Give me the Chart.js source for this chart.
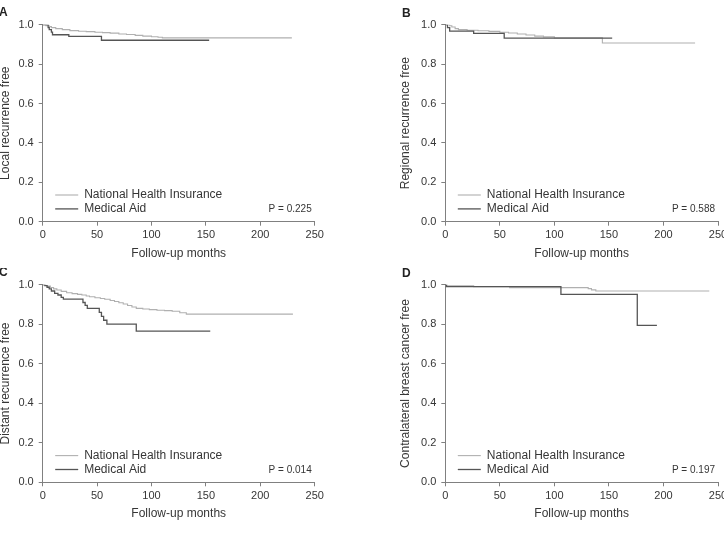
<!DOCTYPE html>
<html lang="en">
<head>
<meta charset="UTF-8" />
<title>Recurrence-free curves by insurance type</title>
<script src="https://cdn.jsdelivr.net/npm/chart.js"></script>
<style>
  body { margin: 0; background: #fff; }
  #wrap { position: relative; width: 724px; height: 536px; overflow: hidden; background: #fff; }
  #wrap canvas { position: absolute; }
</style>
</head>
<body>
<div id="wrap">
  <canvas id="chartA" width="362" height="268" style="left:0;top:0"></canvas>
  <canvas id="chartB" width="362" height="268" style="left:362px;top:0"></canvas>
  <canvas id="chartC" width="362" height="268" style="left:0;top:268px"></canvas>
  <canvas id="chartD" width="362" height="268" style="left:362px;top:268px"></canvas>
</div>
<script>
  // axis ticks shared by all four panels
  const xTickValues = [0, 50, 100, 150, 200, 250];
  const yTickValues = [0, 0.2, 0.4, 0.6, 0.8, 1.0];
  const seriesNames = ['National Health Insurance', 'Medical Aid'];

  // A - local recurrence
  const aNhiMonths = [0, 3, 6, 8, 12, 18, 25, 33, 40, 48, 55, 62, 70, 77, 85, 92, 100, 106, 110, 229];
  const aNhiSurv   = [1, 0.995, 0.99, 0.985, 0.98, 0.975, 0.97, 0.967, 0.965, 0.962, 0.96, 0.957, 0.953, 0.95, 0.946, 0.942, 0.939, 0.936, 0.933, 0.933];
  const aMaMonths  = [0, 5, 6, 8, 9, 24, 54, 153];
  const aMaSurv    = [1, 0.985, 0.975, 0.962, 0.949, 0.941, 0.921, 0.921];

  // B - regional recurrence
  const bNhiMonths = [0, 4, 6, 9, 12, 20, 30, 40, 50, 58, 66, 74, 82, 90, 100, 144, 229];
  const bNhiSurv   = [1, 0.995, 0.988, 0.98, 0.975, 0.972, 0.969, 0.966, 0.962, 0.958, 0.953, 0.948, 0.942, 0.938, 0.933, 0.907, 0.907];
  const bMaMonths  = [0, 2, 4, 26, 54, 153];
  const bMaSurv    = [1, 0.985, 0.967, 0.956, 0.932, 0.932];

  // C - distant recurrence
  const cNhiMonths = [0, 2, 4, 7, 10, 13, 17, 22, 27, 32, 36, 40, 43, 48, 53, 57, 62, 66, 70, 74, 78, 82, 86, 92, 98, 105, 112, 119, 126, 132, 230];
  const cNhiSurv   = [1, 0.997, 0.993, 0.986, 0.979, 0.973, 0.966, 0.959, 0.955, 0.951, 0.948, 0.943, 0.939, 0.934, 0.93, 0.926, 0.92, 0.915, 0.909, 0.902, 0.895, 0.887, 0.88, 0.877, 0.874, 0.871, 0.869, 0.866, 0.858, 0.851, 0.851];
  const cMaMonths  = [0, 2, 4, 6, 8, 11, 14, 17, 19, 37, 39, 41, 52, 54, 56, 59, 86, 154];
  const cMaSurv    = [1, 0.995, 0.987, 0.979, 0.968, 0.956, 0.948, 0.936, 0.927, 0.91, 0.895, 0.88, 0.86, 0.84, 0.82, 0.8, 0.765, 0.765];

  // D - contralateral breast cancer
  const dNhiMonths = [0, 2, 26, 59, 131, 134, 138, 242];
  const dNhiSurv   = [1, 0.995, 0.99, 0.985, 0.98, 0.974, 0.968, 0.968];
  const dMaMonths  = [0, 1, 106, 176, 194];
  const dMaSurv    = [1, 0.99, 0.951, 0.794, 0.794];

  const FONT = "'Liberation Sans', Arial, sans-serif";
  const TEXT = '#363636';
  const AXIS = '#808080';
  const NHI_COLOR = '#b0b0b0';
  const MA_COLOR = '#555555';

  function pts(months, surv) {
    return months.map((m, i) => ({ x: m, y: surv[i] }));
  }

  // legend, p value and panel letter drawn on the canvas
  const extrasPlugin = {
    id: 'extras',
    afterDraw(chart, args, opts) {
      const { ctx, chartArea: ca } = chart;
      ctx.save();
      ctx.font = '12px ' + FONT;
      ctx.textBaseline = 'middle';
      const rows = [ca.bottom - 26.7, ca.bottom - 12.8];
      const cols = [NHI_COLOR, MA_COLOR];
      rows.forEach((y, i) => {
        ctx.strokeStyle = cols[i];
        ctx.lineWidth = i === 0 ? 1.1 : 1.3;
        ctx.beginPath();
        ctx.moveTo(ca.left + 12.5, y);
        ctx.lineTo(ca.left + 35.5, y);
        ctx.stroke();
        ctx.fillStyle = TEXT;
        ctx.textAlign = 'left';
        ctx.fillText(seriesNames[i], ca.left + 41.5, y);
      });
      ctx.font = '10px ' + FONT;
      ctx.textAlign = 'right';
      ctx.fillText(opts.p, ca.right - 3, ca.bottom - 12.5);
      ctx.font = 'bold 12px ' + FONT;
      ctx.textAlign = 'left';
      ctx.fillStyle = '#222';
      ctx.fillText(opts.letter, opts.lx, opts.ly);
      ctx.restore();
    }
  };

  function makePanel(id, o) {
    new Chart(document.getElementById(id), {
      type: 'line',
      data: {
        datasets: [
          { label: seriesNames[1], data: pts(o.maM, o.maS), borderColor: MA_COLOR, borderWidth: 1.3, stepped: 'before', pointRadius: 0 },
          { label: seriesNames[0], data: pts(o.nhiM, o.nhiS), borderColor: NHI_COLOR, borderWidth: 1.1, stepped: 'before', pointRadius: 0 }
        ]
      },
      options: {
        responsive: false,
        animation: false,
        layout: { padding: { left: o.padL, top: o.padT, right: o.padR, bottom: o.padB } },
        plugins: {
          legend: { display: false },
          tooltip: { enabled: false },
          extras: { p: o.p, letter: o.letter, lx: o.lx, ly: o.ly }
        },
        scales: {
          x: {
            type: 'linear', min: 0, max: 250,
            afterBuildTicks: s => { s.ticks = xTickValues.map(v => ({ value: v })); },
            afterFit: s => { s.height = o.xH; s.paddingLeft = 0; s.paddingRight = 0; },
            grid: { drawOnChartArea: false, tickLength: 4, color: AXIS },
            border: { color: AXIS, width: 1 },
            ticks: { color: TEXT, padding: 3, maxRotation: 0, font: { size: 11, family: FONT } },
            title: { display: true, text: 'Follow-up months', color: TEXT, font: { size: 12, family: FONT }, padding: { top: 0, bottom: 6.8 } }
          },
          y: {
            min: 0, max: 1,
            afterBuildTicks: s => { s.ticks = yTickValues.map(v => ({ value: v })); },
            afterFit: s => { s.width = o.yW; s.paddingTop = 0; s.paddingBottom = 0; },
            grid: { drawOnChartArea: false, tickLength: 4, color: AXIS },
            border: { color: AXIS, width: 1 },
            ticks: { color: TEXT, padding: 5, callback: v => v.toFixed(1), font: { size: 11, family: FONT } },
            title: { display: true, text: o.yTitle, color: TEXT, font: { size: 12, family: FONT }, padding: { top: o.yTitlePad, bottom: 0 } }
          }
        }
      },
      plugins: [extrasPlugin]
    });
  }

  makePanel('chartA', {
    nhiM: aNhiMonths, nhiS: aNhiSurv, maM: aMaMonths, maS: aMaSurv,
    yTitle: 'Local recurrence free', p: 'P = 0.225', letter: 'A', lx: -1, ly: 12.5,
    padL: 0, padT: 24.7, padR: 47.3, padB: 0, yW: 42.7, xH: 46.3, yTitlePad: -1.5
  });
  makePanel('chartB', {
    nhiM: bNhiMonths, nhiS: bNhiSurv, maM: bMaMonths, maS: bMaSurv,
    yTitle: 'Regional recurrence free', p: 'P = 0.588', letter: 'B', lx: 40, ly: 13.5,
    padL: 37, padT: 24.7, padR: 6, padB: 0, yW: 46.3, xH: 46.3, yTitlePad: -0.9
  });
  makePanel('chartC', {
    nhiM: cNhiMonths, nhiS: cNhiSurv, maM: cMaMonths, maS: cMaSurv,
    yTitle: 'Distant recurrence free', p: 'P = 0.014', letter: 'C', lx: -1, ly: 5,
    padL: 0, padT: 16.7, padR: 47.3, padB: 8, yW: 42.7, xH: 45.7, yTitlePad: -1.5
  });
  makePanel('chartD', {
    nhiM: dNhiMonths, nhiS: dNhiSurv, maM: dMaMonths, maS: dMaSurv,
    yTitle: 'Contralateral breast cancer free', p: 'P = 0.197', letter: 'D', lx: 40, ly: 6,
    padL: 37, padT: 16.7, padR: 6, padB: 8, yW: 46.3, xH: 45.7, yTitlePad: -0.9
  });
</script>
</body>
</html>
